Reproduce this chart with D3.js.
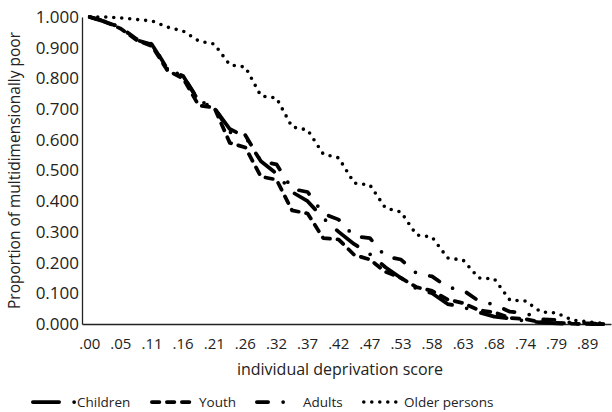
<!DOCTYPE html>
<html>
<head>
<meta charset="utf-8">
<script src="https://cdn.jsdelivr.net/npm/d3@7"></script>
<style>
  body { margin: 0; background: #fff; }
  text { font-family: "Open Sans", sans-serif; fill: #222; }
</style>
</head>
<body>
<div id="chart"></div>
<script>
// Deprivation score categories (every second one gets a label)
const categories = [".00", ".03", ".05", ".08", ".11", ".13", ".16", ".18", ".21", ".24",
  ".26", ".29", ".32", ".34", ".37", ".39", ".42", ".45", ".47", ".50",
  ".53", ".55", ".58", ".61", ".63", ".66", ".68", ".71", ".74", ".76",
  ".79", ".84", ".89", ".95"];
const tickLabels = [".00", ".05", ".11", ".16", ".21", ".26", ".32", ".37", ".42", ".47",
  ".53", ".58", ".63", ".68", ".74", ".79", ".89"];
const yTicks = [0, 0.1, 0.2, 0.3, 0.4, 0.5, 0.6, 0.7, 0.8, 0.9, 1.0];

// Proportion of multidimensionally poor, by group
const children = [1.000, 0.984, 0.966, 0.925, 0.910, 0.830, 0.808, 0.726, 0.704, 0.635,
  0.610, 0.530, 0.490, 0.430, 0.400, 0.345, 0.300, 0.260, 0.228, 0.185,
  0.150, 0.115, 0.100, 0.065, 0.055, 0.038, 0.024, 0.018, 0.010, 0.005,
  0.002, 0.001, 0.000, 0.000];
const youth = [1.000, 0.984, 0.962, 0.925, 0.905, 0.825, 0.800, 0.712, 0.705, 0.590,
  0.575, 0.480, 0.470, 0.370, 0.360, 0.280, 0.275, 0.225, 0.210, 0.170,
  0.150, 0.120, 0.108, 0.080, 0.068, 0.045, 0.038, 0.020, 0.016, 0.006,
  0.004, 0.001, 0.000, 0.000];
const adults = [1.000, 0.986, 0.966, 0.928, 0.912, 0.830, 0.808, 0.728, 0.706, 0.625,
  0.615, 0.530, 0.520, 0.440, 0.430, 0.360, 0.340, 0.285, 0.280, 0.220,
  0.210, 0.165, 0.155, 0.120, 0.110, 0.075, 0.063, 0.040, 0.036, 0.015,
  0.013, 0.004, 0.002, 0.000];
const older = [1.000, 1.000, 0.997, 0.992, 0.987, 0.967, 0.954, 0.922, 0.912, 0.844,
  0.837, 0.743, 0.736, 0.642, 0.632, 0.554, 0.541, 0.459, 0.453, 0.378,
  0.365, 0.290, 0.283, 0.215, 0.208, 0.150, 0.147, 0.078, 0.075, 0.039,
  0.036, 0.013, 0.007, 0.002];

const seriesNames = ["Children", "Youth", "Adults", "Older persons"];
const seriesValues = [children, youth, adults, older];

const width = 612, height = 412;
const margin = { top: 17, right: 1, bottom: 88, left: 82 };

const svg = d3.select("#chart").append("svg")
  .attr("width", width)
  .attr("height", height);

// Line styles (Excel-like dash patterns, round caps)
const styles = [
  { dash: "26.25 15 0 15", w: 3.75 },  // long dash dot
  { dash: "7.5 7.5", w: 3.75 },        // short dash
  { dash: "11.25 15 0 15", w: 3.75 },  // dash dot
  { dash: "0 8", w: 3.6 }              // round dots
];

const x = d3.scaleBand()
  .domain(categories)
  .range([margin.left, width - margin.right]);

const y = d3.scaleLinear()
  .domain([0, 1])
  .range([height - margin.bottom, margin.top]);

// Y axis
const yAxis = svg.append("g")
  .attr("transform", `translate(${margin.left},0)`)
  .call(d3.axisLeft(y).tickValues(yTicks).tickFormat(d3.format(".3f")).tickSize(0).tickPadding(3));
yAxis.select(".domain").attr("stroke", "#222").attr("stroke-width", 1.3);
yAxis.selectAll("text").style("font-size", "17px").attr("fill", "#222");

// X axis
const xAxis = svg.append("g")
  .attr("transform", `translate(0,${height - margin.bottom})`)
  .call(d3.axisBottom(x).tickValues(tickLabels).tickSize(0).tickPadding(14));
xAxis.select(".domain").attr("stroke", "#222").attr("stroke-width", 1.3);
xAxis.selectAll("text").style("font-size", "15px").attr("fill", "#222");

// Axis titles
svg.append("text")
  .attr("x", (margin.left + width) / 2 - 7)
  .attr("y", 375)
  .attr("text-anchor", "middle")
  .style("font-size", "16px")
  .text("individual deprivation score");

svg.append("text")
  .attr("transform", `translate(20,${(margin.top + height - margin.bottom) / 2}) rotate(-90)`)
  .attr("text-anchor", "middle")
  .style("font-size", "15.5px")
  .text("Proportion of multidimensionally poor");

// Lines
const line = d3.line()
  .x((d, i) => x(categories[i]) + x.bandwidth() / 2)
  .y(d => y(d));

seriesValues.forEach((vals, k) => {
  svg.append("path")
    .datum(vals)
    .attr("fill", "none")
    .attr("stroke", "#000")
    .attr("stroke-width", styles[k].w)
    .attr("stroke-linecap", "round")
    .attr("stroke-linejoin", "round")
    .attr("stroke-dasharray", styles[k].dash)
    .attr("d", line);
});

// Legend
const legendX = [31, 150, 255, 362];
const legendTextX = [77, 199, 303, 404];
const legendLen = [46, 44, 44, 40];
const legendY = 402;
const legend = svg.append("g");
seriesNames.forEach((name, k) => {
  const w = styles[k].w;
  legend.append("line")
    .attr("x1", legendX[k] + w / 2).attr("x2", legendX[k] + legendLen[k] - w / 2)
    .attr("y1", legendY).attr("y2", legendY)
    .attr("stroke", "#000")
    .attr("stroke-width", w)
    .attr("stroke-linecap", "round")
    .attr("stroke-dasharray", styles[k].dash);
  legend.append("text")
    .attr("x", legendTextX[k])
    .attr("y", legendY + 5)
    .style("font-size", "13.5px")
    .text(name);
});
</script>
</body>
</html>
